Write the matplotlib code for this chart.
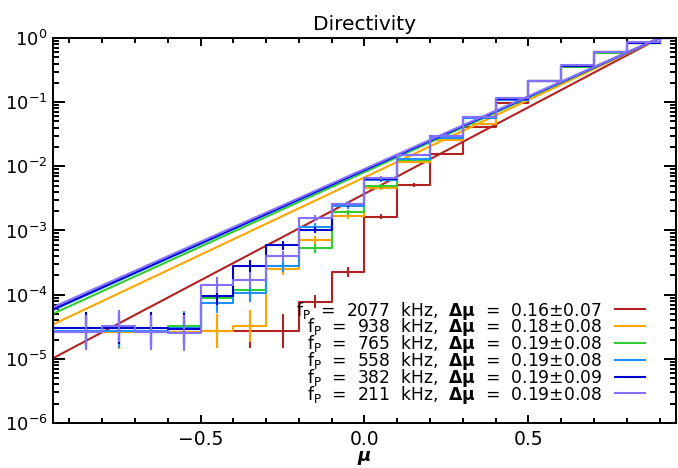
import numpy as np
import matplotlib
matplotlib.use("Agg")
from matplotlib import pyplot as plt
from matplotlib.ticker import FixedLocator, MultipleLocator, LogLocator, NullFormatter

# bin centres in mu (bin width 0.1)
mu = np.round(np.arange(-0.95, 1.0, 0.1), 2)

freqs = [2077, 938, 765, 558, 382, 211]
colors = ["#b22222", "#ffa500", "#32cd32", "#1e90ff", "#0000cd", "#8470ff"]

# fitted e-folding width and its error for each frequency
dmu = [0.161, 0.180, 0.187, 0.1895, 0.190, 0.1915]
dmu_err = [0.07, 0.08, 0.08, 0.08, 0.09, 0.08]
mu_peak = 0.9

# normalised directivity histograms
d2077 = [2.6e-5, 2.6e-5, 2.6e-5, 2.6e-5, 2.6e-5, 2.7e-5, 2.7e-5, 2.7e-5, 7.8e-5, 2.25e-4,
         1.64e-3, 5.1e-3, 1.56e-2, 4.1e-2, 9.6e-2, 0.21, 0.36, 0.60, 0.85, 1.0]
d938 = [2.6e-5, 2.6e-5, 2.6e-5, 2.6e-5, 2.6e-5, 2.7e-5, 3.2e-5, 2.5e-4, 7.1e-4, 1.68e-3,
        4.6e-3, 1.17e-2, 2.57e-2, 4.6e-2, 0.11, 0.21, 0.36, 0.59, 0.85, 1.0]
d765 = [2.7e-5, 2.7e-5, 2.7e-5, 2.7e-5, 3.25e-5, 8.8e-5, 1.18e-4, 2.8e-4, 5.3e-4, 1.92e-3,
        5.0e-3, 1.25e-2, 2.8e-2, 5.7e-2, 0.11, 0.21, 0.357, 0.58, 0.85, 1.0]
d558 = [2.7e-5, 2.7e-5, 2.7e-5, 2.7e-5, 3.0e-5, 7.3e-5, 1.05e-4, 2.8e-4, 1.15e-3, 2.4e-3,
        6.1e-3, 1.29e-2, 2.8e-2, 5.7e-2, 0.11, 0.21, 0.37, 0.60, 0.85, 1.0]
d382 = [3.0e-5, 3.0e-5, 3.0e-5, 3.0e-5, 2.9e-5, 9.6e-5, 2.8e-4, 5.9e-4, 1.02e-3, 2.59e-3,
        6.35e-3, 1.5e-2, 3.0e-2, 5.9e-2, 0.112, 0.214, 0.37, 0.60, 0.83, 1.0]
d211 = [2.6e-5, 2.6e-5, 3.2e-5, 2.6e-5, 2.5e-5, 1.42e-4, 1.7e-4, 4.0e-4, 1.55e-3, 2.6e-3,
        6.6e-3, 1.5e-2, 3.0e-2, 5.9e-2, 0.117, 0.214, 0.376, 0.61, 0.875, 1.0]

# half-width of the error bars, in decades
e2077 = [0.26, 0.26, 0.26, 0.26, 0.26, 0.26, 0.26, 0.26, 0.10, 0.08,
         0.04, 0.03, 0.02, 0.02, 0.015, 0.01, 0.01, 0.01, 0.01, 0.01]
e938 = [0.26, 0.26, 0.26, 0.26, 0.26, 0.26, 0.25, 0.09, 0.06, 0.04,
        0.03, 0.02, 0.02, 0.015, 0.01, 0.01, 0.01, 0.01, 0.01, 0.01]
e765 = [0.26, 0.26, 0.26, 0.26, 0.24, 0.15, 0.13, 0.09, 0.07, 0.04,
        0.03, 0.02, 0.02, 0.015, 0.01, 0.01, 0.01, 0.01, 0.01, 0.01]
e558 = [0.26, 0.26, 0.26, 0.26, 0.25, 0.15, 0.13, 0.09, 0.05, 0.04,
        0.03, 0.02, 0.02, 0.015, 0.01, 0.01, 0.01, 0.01, 0.01, 0.01]
e382 = [0.25, 0.25, 0.25, 0.25, 0.25, 0.14, 0.09, 0.07, 0.05, 0.04,
        0.03, 0.02, 0.02, 0.015, 0.01, 0.01, 0.01, 0.01, 0.01, 0.01]
e211 = [0.27, 0.27, 0.25, 0.27, 0.28, 0.13, 0.12, 0.08, 0.05, 0.04,
        0.03, 0.02, 0.02, 0.015, 0.01, 0.01, 0.01, 0.01, 0.01, 0.01]

hists = [d2077, d938, d765, d558, d382, d211]
errs = [e2077, e938, e765, e558, e382, e211]

plt.rcParams["font.family"] = "DejaVu Sans"
plt.rcParams["mathtext.fontset"] = "dejavusans"

fig = plt.figure(figsize=(6.78, 4.68), dpi=100)
ax = fig.add_axes([53 / 678, 45 / 468, 623 / 678, 385 / 468])

mu_fit = np.linspace(-0.95, 0.95, 100)
for h, e, w, c in zip(hists, errs, dmu, colors):
    h = np.array(h)
    e = np.array(e)
    ax.step(mu, h, where="mid", color=c, lw=1.5)
    ax.vlines(mu, h / 10**e, h * 10**e, color=c, lw=1.5)
    ax.plot(mu_fit, np.exp((mu_fit - mu_peak) / w), color=c, lw=1.5)

ax.set_yscale("log")
ax.set_xlim(-0.95, 0.95)
ax.set_ylim(1e-6, 1.0)

ax.xaxis.set_major_locator(FixedLocator([-0.5, 0.0, 0.5]))
ax.xaxis.set_minor_locator(MultipleLocator(0.1))
ax.yaxis.set_major_locator(FixedLocator(10.0 ** np.arange(-6, 1)))
ax.yaxis.set_minor_locator(LogLocator(base=10, subs=np.arange(2, 10), numticks=10))
ax.yaxis.set_minor_formatter(NullFormatter())

ax.tick_params(which="both", direction="in", top=True, right=True, width=1.4)
ax.tick_params(axis="x", which="major", length=6, labelsize=13.5, pad=5)
ax.tick_params(axis="x", which="minor", length=3.6)
ax.tick_params(axis="y", which="major", length=8.6, labelsize=13, pad=4)
ax.tick_params(axis="y", which="minor", length=4.3)
for s in ax.spines.values():
    s.set_linewidth(1.4)

ax.set_title("Directivity", fontsize=14.5, pad=6)
ax.set_xlabel("μ", fontsize=13, style="italic", weight="bold")
ax.xaxis.label.set_va("baseline")
ax.xaxis.set_label_coords(0.5, -0.099)

# key: right-aligned text with a short coloured line after it
y0 = 0.295
dy = 0.0436
for i, (f, w, we, c) in enumerate(zip(freqs, dmu, dmu_err, colors)):
    y = y0 - i * dy
    label = (r"$\mathrm{f_P}$  =  " + f"{f}  kHz,  " + r"$\mathbf{\Delta\mu}$  =  "
             + f"{w:.2f}±{we:.2f}")
    ax.text(0.881, y - 0.016, label, transform=ax.transAxes, ha="right",
            va="baseline", fontsize=12.3)
    ax.plot([0.902, 0.950], [y, y], color=c, lw=1.5, transform=ax.transAxes)

fig.savefig("out.png", dpi=100)
